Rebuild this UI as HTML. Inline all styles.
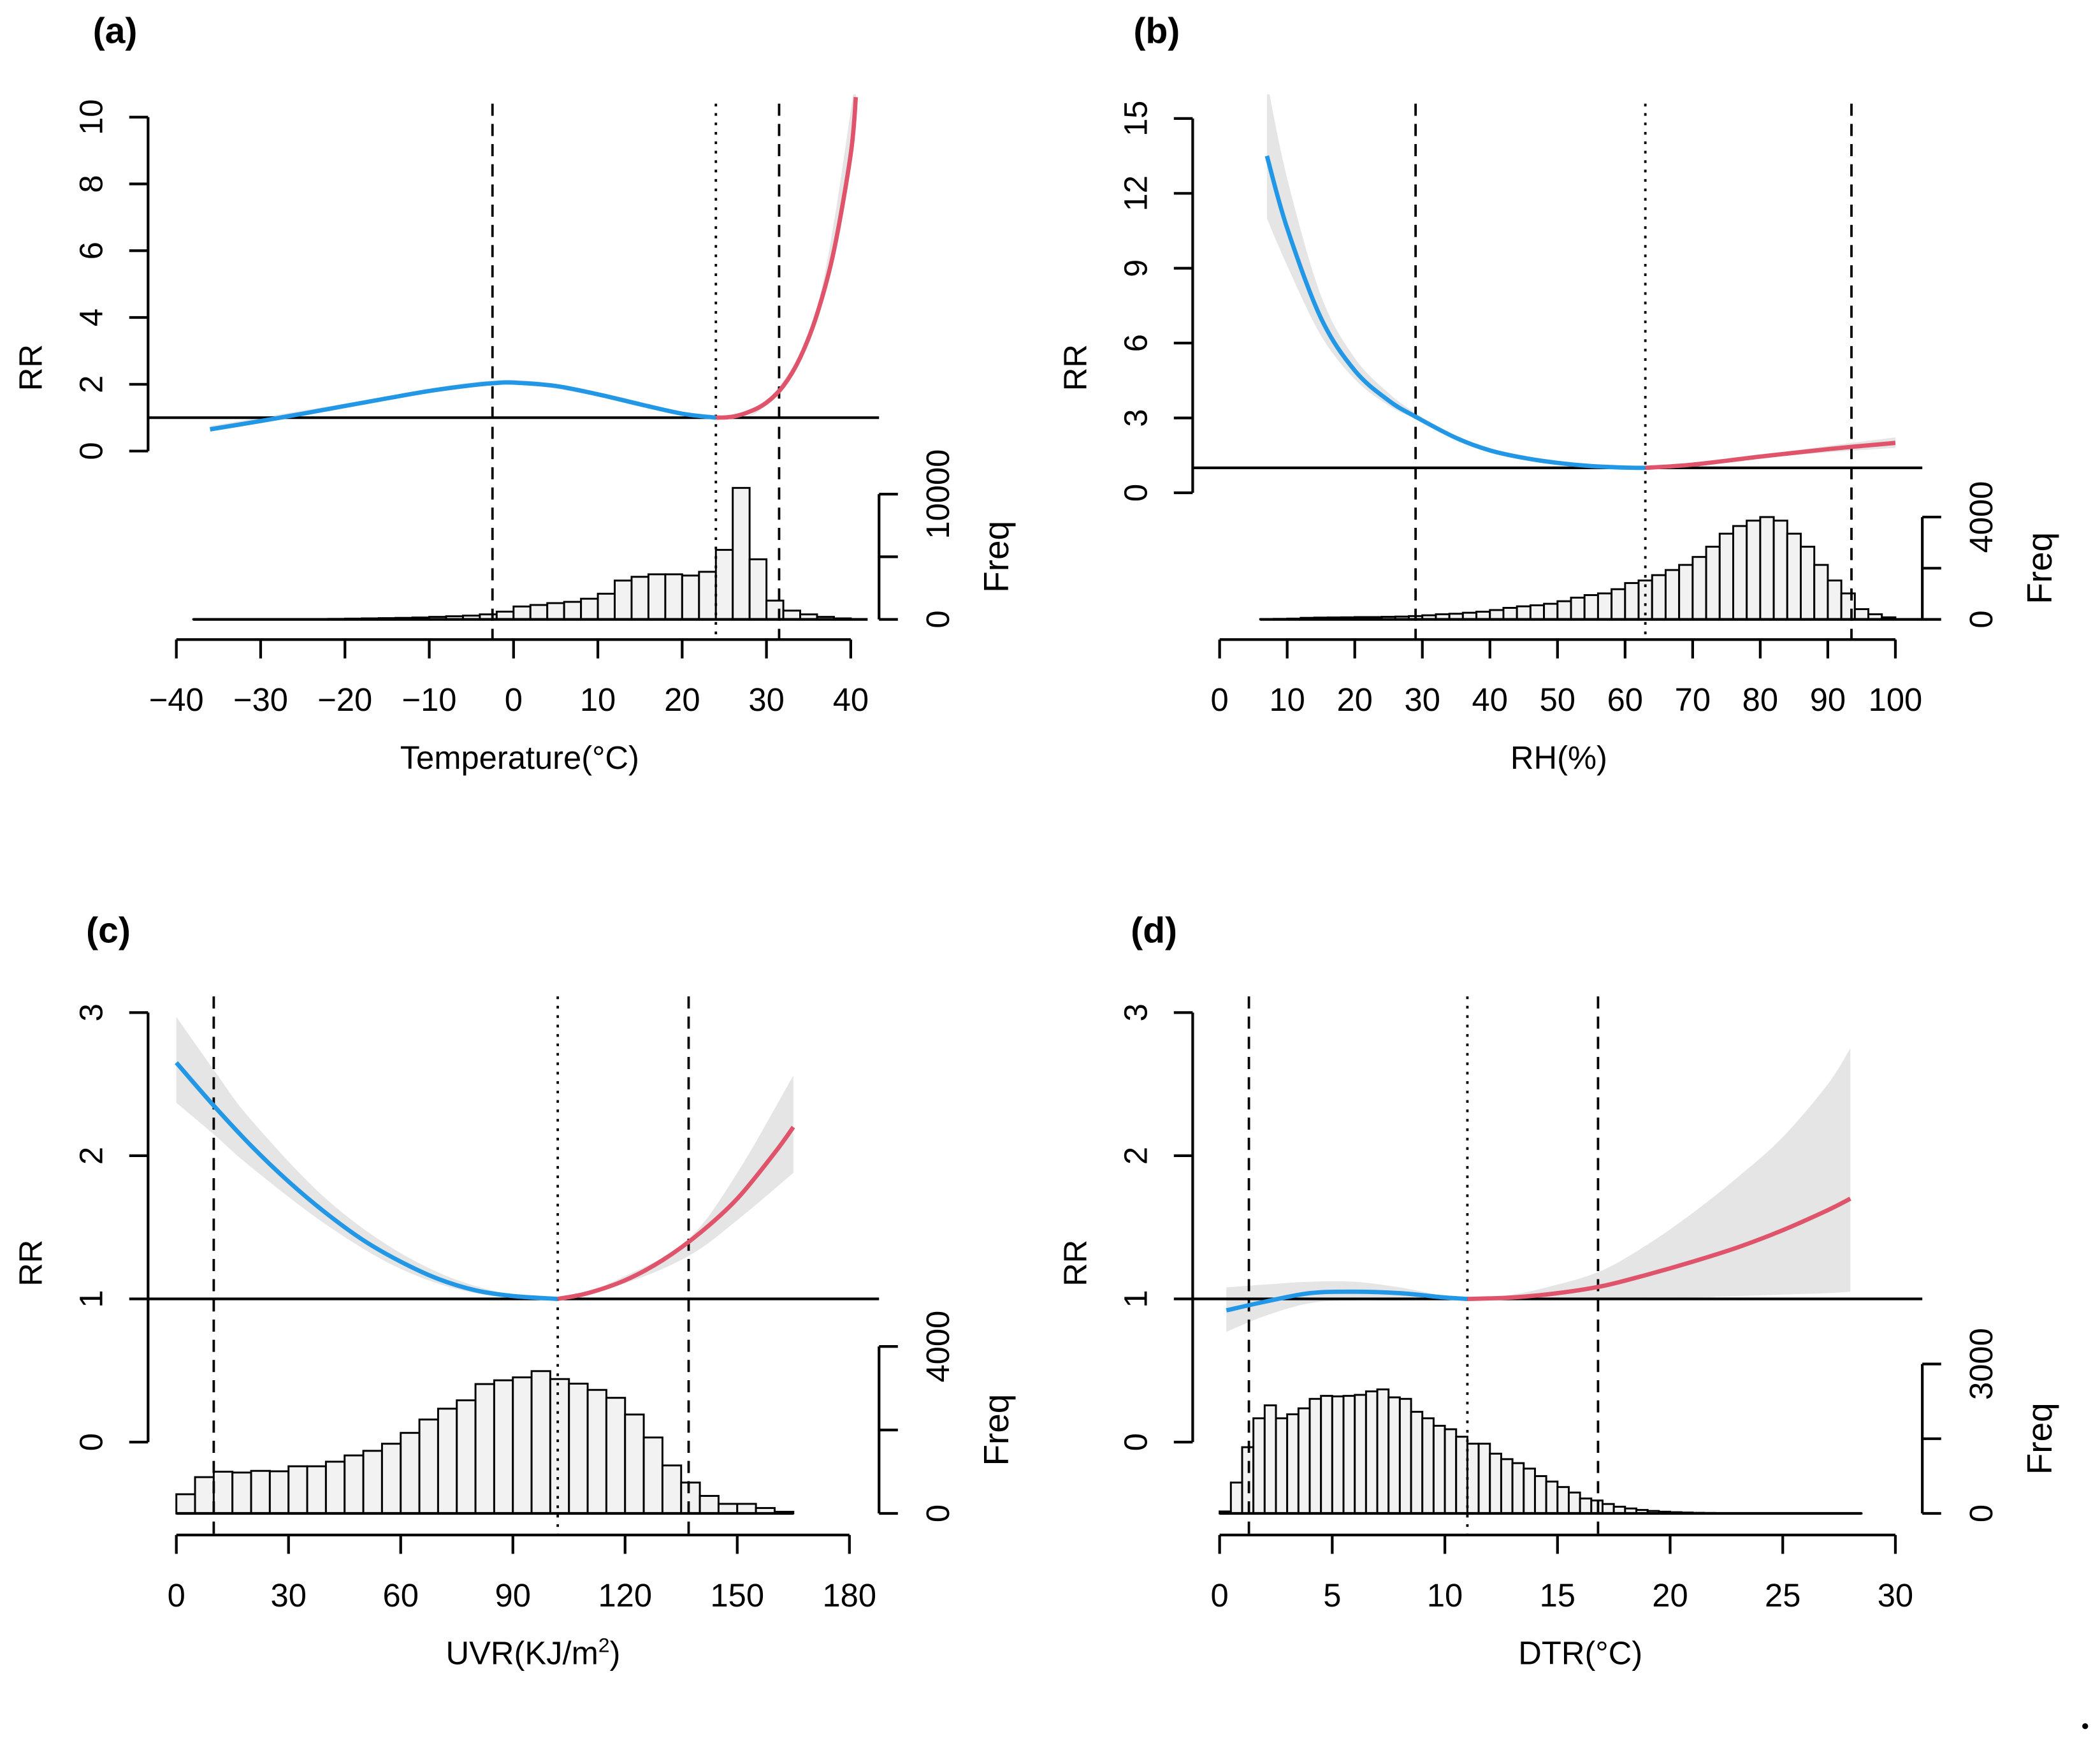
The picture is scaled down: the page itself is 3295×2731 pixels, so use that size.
<!DOCTYPE html>
<html><head><meta charset="utf-8"><style>
html,body{margin:0;padding:0;background:#fff;}
svg{display:block;}
text{font-family:"Liberation Sans",Arial,sans-serif;fill:#000;}
</style></head><body>
<svg id="fig" xmlns="http://www.w3.org/2000/svg" width="3295" height="2731" viewBox="0 0 1560 1293" preserveAspectRatio="none">
<rect x="0" y="0" width="1560" height="1293" fill="#fff"/>
<circle cx="1549" cy="1282" r="2.2" fill="#000"/>
</svg>
<script>
// ---- Panel (a) Temperature ----
const aRRticks = [0,2,4,6,8,10];
const aXticks = [-40,-30,-20,-10,0,10,20,30,40];
const aFreqTicks = [0,5000,10000];
const aFreqTickLabels = ["0","","10000"];
const aBlueX = [-36,-30,-25,-20,-15,-10,-5,-2,0,5,10,15,20,24];
const aBlueY = [0.65,0.9,1.12,1.35,1.58,1.8,1.97,2.04,2.05,1.95,1.7,1.4,1.12,1.0];
const aRedX = [24,26,28,30,32,34,36,38,40,40.6];
const aRedY = [1.0,1.03,1.18,1.45,1.95,2.8,4.1,6.0,8.9,10.6];
const aBandX = [-36,-20,-2,10,24,30,36,40.6];
const aBandLo = [0.6,1.3,1.98,1.65,1.0,1.4,3.9,10.0];
const aBandHi = [0.75,1.42,2.12,1.76,1.0,1.5,4.3,11.2];
const aBinStart = [-38,-36,-34,-32,-30,-28,-26,-24,-22,-20,-18,-16,-14,-12,-10,-8,-6,-4,-2,0,2,4,6,8,10,12,14,16,18,20,22,24,26,28,30,32,34,36,38];
const aBinCount = [2,3,5,8,10,15,20,30,40,60,80,100,120,150,200,250,300,400,620,1030,1150,1300,1400,1650,2050,3100,3400,3600,3600,3500,3800,5550,10500,4800,1500,700,400,200,80];
const aRefLines = [-2.5,24,31.5];

// ---- Panel (b) RH ----
const bRRticks = [0,3,6,9,12,15];
const bXticks = [0,10,20,30,40,50,60,70,80,90,100];
const bFreqTicks = [0,2000,4000];
const bFreqTickLabels = ["0","","4000"];
const bBlueX = [7,10,15,20,25,29,35,40,45,50,55,60,63];
const bBlueY = [13.5,10.6,7.0,4.9,3.7,3.05,2.2,1.7,1.4,1.2,1.07,1.01,1.0];
const bRedX = [63,70,80,90,100];
const bRedY = [1.0,1.13,1.45,1.75,2.0];
const bBandX = [7,10,15,20,25,29,35,45,55,63,70,80,90,100];
const bBandLo = [11.0,9.1,6.3,4.55,3.5,2.95,2.15,1.37,1.05,1.0,1.1,1.38,1.62,1.8];
const bBandHi = [16.5,12.6,7.9,5.4,4.0,3.2,2.27,1.43,1.09,1.0,1.16,1.52,1.88,2.22];
const bBinStart = [6,8,10,12,14,16,18,20,22,24,26,28,30,32,34,36,38,40,42,44,46,48,50,52,54,56,58,60,62,64,66,68,70,72,74,76,78,80,82,84,86,88,90,92,94,96,98];
const bBinCount = [10,20,30,60,70,75,80,90,90,100,110,130,160,200,220,260,300,365,450,510,550,610,710,850,950,1015,1180,1420,1520,1730,1930,2130,2440,2840,3350,3650,3860,4000,3860,3350,2840,2130,1520,1015,400,200,80];
const bRefLines = [29,63,93.5];

// ---- Panel (c) UVR ----
const cRRticks = [0,1,2,3];
const cXticks = [0,30,60,90,120,150,180];
const cFreqTicks = [0,2000,4000];
const cFreqTickLabels = ["0","","4000"];
const cBlueX = [0,10,20,30,40,50,60,70,80,90,102];
const cBlueY = [2.65,2.35,2.07,1.82,1.6,1.41,1.26,1.14,1.06,1.02,1.0];
const cRedX = [102,110,120,130,140,150,160,165];
const cRedY = [1.0,1.04,1.13,1.27,1.46,1.7,2.02,2.2];
const cBandX = [0,10,20,40,60,80,102,120,137,150,165];
const cBandLo = [2.37,2.15,1.92,1.52,1.21,1.04,1.0,1.11,1.3,1.55,1.88];
const cBandHi = [2.97,2.6,2.25,1.7,1.32,1.09,1.0,1.16,1.42,1.88,2.56];
const cBinStart = [0,5,10,15,20,25,30,35,40,45,50,55,60,65,70,75,80,85,90,95,100,105,110,115,120,125,130,135,140,145,150,155,160];
const cBinCount = [460,870,1000,980,1020,1010,1130,1130,1240,1390,1500,1670,1930,2250,2510,2710,3100,3190,3260,3410,3220,3110,2960,2770,2370,1820,1150,740,420,230,230,130,40];
const cRefLines = [10,102,137];

// ---- Panel (d) DTR ----
const dRRticks = [0,1,2,3];
const dXticks = [0,5,10,15,20,25,30];
const dFreqTicks = [0,1500,3000];
const dFreqTickLabels = ["0","","3000"];
const dBlueX = [0.3,2,4,6,8,10,11];
const dBlueY = [0.92,0.98,1.04,1.05,1.04,1.01,1.0];
const dRedX = [11,13,15,17,19,21,23,25,27,28];
const dRedY = [1.0,1.01,1.04,1.09,1.17,1.26,1.36,1.48,1.62,1.7];
const dBandX = [0.3,2,4,6,8,10,11,13,15,17,19,21,23,25,27,28];
const dBandLo = [0.77,0.88,0.97,0.99,0.99,1.0,1.0,1.0,1.0,1.0,1.01,1.01,1.02,1.03,1.04,1.05];
const dBandHi = [1.08,1.1,1.12,1.12,1.08,1.02,1.0,1.03,1.1,1.2,1.38,1.6,1.85,2.13,2.5,2.75];
const dBinStart = [0,0.5,1,1.5,2,2.5,3,3.5,4,4.5,5,5.5,6,6.5,7,7.5,8,8.5,9,9.5,10,10.5,11,11.5,12,12.5,13,13.5,14,14.5,15,15.5,16,16.5,17,17.5,18,18.5,19,19.5,20,20.5,21,21.5,22,22.5,23,23.5,24,24.5,25,25.5,26,26.5,27,27.5,28];
const dBinCount = [40,620,1330,1910,2170,1910,1990,2110,2300,2360,2350,2360,2380,2450,2490,2330,2300,2040,1910,1760,1690,1540,1400,1400,1200,1090,1010,900,750,640,530,420,300,260,190,135,100,70,50,35,25,18,12,9,6,4,3,2,2,1,1,1,1,1,1,1,1];
const dRefLines = [1.3,11,16.8];

const SVGNS = "http://www.w3.org/2000/svg";
const svg = document.getElementById('fig');
function mk(tag, attrs, parent){
  const e = document.createElementNS(SVGNS, tag);
  for (const k in attrs) e.setAttribute(k, attrs[k]);
  (parent||svg).appendChild(e);
  return e;
}
function smooth(pts){
  if(pts.length<2) return '';
  let d = 'M'+pts[0][0].toFixed(2)+','+pts[0][1].toFixed(2);
  for(let i=0;i<pts.length-1;i++){
    const p0=pts[Math.max(0,i-1)], p1=pts[i], p2=pts[i+1], p3=pts[Math.min(pts.length-1,i+2)];
    const c1x=p1[0]+(p2[0]-p0[0])/6, c1y=p1[1]+(p2[1]-p0[1])/6;
    const c2x=p2[0]-(p3[0]-p1[0])/6, c2y=p2[1]-(p3[1]-p1[1])/6;
    d+=' C'+c1x.toFixed(2)+','+c1y.toFixed(2)+' '+c2x.toFixed(2)+','+c2y.toFixed(2)+' '+p2[0].toFixed(2)+','+p2[1].toFixed(2);
  }
  return d;
}

function panel(cfg){
  const g = mk('g', {});
  
  
  const X = v => cfg.x0 + (v-cfg.xmin)/(cfg.xmax-cfg.xmin)*(cfg.x1-cfg.x0);
  const Y = v => cfg.yBot - (v-cfg.ymin)/(cfg.ymax-cfg.ymin)*(cfg.yBot-cfg.yTop);
  const F = v => cfg.fBot - v/cfg.fmax*(cfg.fBot-cfg.fTop);

  const cp = mk('clipPath', {id:'clip-'+cfg.id}, g);
  mk('rect', {x:cfg.yAxisX-5, y:cfg.clipTop, width:cfg.refEnd-cfg.yAxisX+10, height:cfg.yBot-cfg.clipTop+60}, cp);

  const up = cfg.bandX.map((x,i)=>[X(x),Y(cfg.bandHi[i])]);
  const lo = cfg.bandX.map((x,i)=>[X(x),Y(cfg.bandLo[i])]).reverse();
  let bd = smooth(up) + ' L' + lo[0][0].toFixed(2)+','+lo[0][1].toFixed(2) + smooth(lo).replace(/^M[^C]*/, '') + ' Z';
  const band = mk('path', {d:bd, fill:'#e5e5e5', stroke:'none', 'clip-path':'url(#clip-'+cfg.id+')'}, g);
  
  

  const hg = mk('g', {}, g);
  
  
  cfg.binStart.forEach((b,i)=>{
    const xl = X(b), xr = X(b+cfg.binW), yt = F(cfg.binCount[i]);
    const r = mk('rect', {x:xl, y:yt, width:xr-xl, height:cfg.fBot-yt, fill:'#f2f2f2', stroke:'#000', 'stroke-width':1.4}, hg);
    
    
  });
  const hb = mk('line', {x1:X(cfg.histBaseFrom), x2:X(cfg.histBaseTo), y1:cfg.fBot, y2:cfg.fBot, stroke:'#000', 'stroke-width':2}, g);
  
  

  const rl = mk('line', {x1:cfg.yAxisX, x2:cfg.refEnd, y1:Y(1), y2:Y(1), stroke:'#000', 'stroke-width':2}, g);
  
  

  cfg.refLines.forEach((v,i)=>{
    const l = mk('line', {x1:X(v), x2:X(v), y1:cfg.vTop, y2:cfg.xAxisY, stroke:'#000', 'stroke-width':1.8,
      'stroke-dasharray': i===1 ? '2,5' : '9,6'}, g);
    
    
  });

  const bl = mk('path', {d:smooth(cfg.blueX.map((x,i)=>[X(x),Y(cfg.blueY[i])])), fill:'none', stroke:'#2297E6', 'stroke-width':3.2, 'clip-path':'url(#clip-'+cfg.id+')'}, g);
  
  
  const rd = mk('path', {d:smooth(cfg.redX.map((x,i)=>[X(x),Y(cfg.redY[i])])), fill:'none', stroke:'#DF536B', 'stroke-width':3.2, 'clip-path':'url(#clip-'+cfg.id+')'}, g);
  
  

  const ya = mk('g', {}, g);
  
  
  mk('line', {x1:cfg.yAxisX, x2:cfg.yAxisX, y1:Y(cfg.rrTicks[0]), y2:Y(cfg.rrTicks[cfg.rrTicks.length-1]), stroke:'#000', 'stroke-width':2}, ya);
  cfg.rrTicks.forEach(t=>{
    mk('line', {x1:cfg.yAxisX-14, x2:cfg.yAxisX, y1:Y(t), y2:Y(t), stroke:'#000', 'stroke-width':2}, ya);
    const tx = mk('text', {x:0, y:0, 'font-size':24, 'text-anchor':'middle', transform:'translate('+(cfg.yAxisX-34)+','+Y(t)+') rotate(-90)'}, ya);
    tx.textContent = t;
    
    
  });
  const rrt = mk('text', {x:0,y:0,'font-size':24,'text-anchor':'middle', transform:'translate('+(cfg.yAxisX-79)+','+cfg.rrTitleY+') rotate(-90)'}, g);
  rrt.textContent = 'RR';
  
  

  const fa = mk('g', {}, g);
  
  
  mk('line', {x1:cfg.refEnd, x2:cfg.refEnd, y1:F(cfg.fTicks[0]), y2:F(cfg.fTicks[cfg.fTicks.length-1]), stroke:'#000', 'stroke-width':2}, fa);
  cfg.fTicks.forEach((t,i)=>{
    mk('line', {x1:cfg.refEnd, x2:cfg.refEnd+14, y1:F(t), y2:F(t), stroke:'#000', 'stroke-width':2}, fa);
    if(cfg.fLabels[i]){
      const tx = mk('text', {x:0,y:0,'font-size':24,'text-anchor':'middle', transform:'translate('+(cfg.refEnd+52)+','+F(t)+') rotate(-90)'}, fa);
      tx.textContent = cfg.fLabels[i];
      
      
    }
  });
  const ft = mk('text', {x:0,y:0,'font-size':26,'text-anchor':'middle', transform:'translate('+(cfg.refEnd+96)+','+((cfg.fBot+cfg.fTop)/2)+') rotate(-90)'}, g);
  ft.textContent = 'Freq';
  
  

  const xa = mk('g', {}, g);
  
  
  mk('line', {x1:X(cfg.xTicks[0]), x2:X(cfg.xTicks[cfg.xTicks.length-1]), y1:cfg.xAxisY, y2:cfg.xAxisY, stroke:'#000', 'stroke-width':2}, xa);
  cfg.xTicks.forEach(t=>{
    mk('line', {x1:X(t), x2:X(t), y1:cfg.xAxisY, y2:cfg.xAxisY+14, stroke:'#000', 'stroke-width':2}, xa);
    const tx = mk('text', {x:X(t), y:cfg.xAxisY+53, 'font-size':24, 'text-anchor':'middle'}, xa);
    tx.textContent = String(t).replace('-', '\u2212');
    
    
  });
  const xt = mk('text', {x:cfg.xTitleX, y:cfg.xAxisY+96, 'font-size':24, 'text-anchor':'middle'}, g);
  xt.innerHTML = cfg.xTitle;
  
  

  const pl = mk('text', {x:cfg.labX, y:cfg.labY, 'font-size':27, 'font-weight':'bold'}, g);
  pl.textContent = '('+cfg.id+')';
  
  
}

panel({id:'a', x0:131, x1:632, xmin:-40, xmax:40, yAxisX:110, yBot:335, yTop:87, ymin:0, ymax:10, clipTop:70,
  refEnd:653, fBot:460, fTop:367, fmax:10000, xAxisY:475, vTop:77,
  rrTicks:aRRticks, xTicks:aXticks, fTicks:aFreqTicks, fLabels:aFreqTickLabels,
  blueX:aBlueX, blueY:aBlueY, redX:aRedX, redY:aRedY, bandX:aBandX, bandLo:aBandLo, bandHi:aBandHi,
  binStart:aBinStart, binCount:aBinCount, binW:2, histBaseFrom:-38, histBaseTo:42, refLines:aRefLines,
  rrTitleY:273, xTitle:'Temperature(°C)', xTitleX:386, labX:69, labY:32});

panel({id:'b', x0:906, x1:1408, xmin:0, xmax:100, yAxisX:886, yBot:366, yTop:88, ymin:0, ymax:15, clipTop:70,
  refEnd:1428, fBot:460, fTop:384, fmax:4000, xAxisY:475, vTop:77,
  rrTicks:bRRticks, xTicks:bXticks, fTicks:bFreqTicks, fLabels:bFreqTickLabels,
  blueX:bBlueX, blueY:bBlueY, redX:bRedX, redY:bRedY, bandX:bBandX, bandLo:bBandLo, bandHi:bBandHi,
  binStart:bBinStart, binCount:bBinCount, binW:2, histBaseFrom:6, histBaseTo:104, refLines:bRefLines,
  rrTitleY:273, xTitle:'RH(%)', xTitleX:1158, labX:842, labY:32});

panel({id:'c', x0:131, x1:631, xmin:0, xmax:180, yAxisX:110, yBot:1071, yTop:752, ymin:0, ymax:3, clipTop:740,
  refEnd:653, fBot:1124, fTop:1000, fmax:4000, xAxisY:1140, vTop:740,
  rrTicks:cRRticks, xTicks:cXticks, fTicks:cFreqTicks, fLabels:cFreqTickLabels,
  blueX:cBlueX, blueY:cBlueY, redX:cRedX, redY:cRedY, bandX:cBandX, bandLo:cBandLo, bandHi:cBandHi,
  binStart:cBinStart, binCount:cBinCount, binW:5, histBaseFrom:0, histBaseTo:165, refLines:cRefLines,
  rrTitleY:938, xTitle:'UVR(KJ/m<tspan font-size="15" dy="-9">2</tspan><tspan dy="9">)</tspan>', xTitleX:396, labX:64, labY:700});

panel({id:'d', x0:906, x1:1408, xmin:0, xmax:30, yAxisX:886, yBot:1071, yTop:752, ymin:0, ymax:3, clipTop:740,
  refEnd:1428, fBot:1124, fTop:1013, fmax:3000, xAxisY:1140, vTop:740,
  rrTicks:dRRticks, xTicks:dXticks, fTicks:dFreqTicks, fLabels:dFreqTickLabels,
  blueX:dBlueX, blueY:dBlueY, redX:dRedX, redY:dRedY, bandX:dBandX, bandLo:dBandLo, bandHi:dBandHi,
  binStart:dBinStart, binCount:dBinCount, binW:0.5, histBaseFrom:0, histBaseTo:28.5, refLines:dRefLines,
  rrTitleY:938, xTitle:'DTR(°C)', xTitleX:1174, labX:840, labY:700});
</script>
</body></html>
